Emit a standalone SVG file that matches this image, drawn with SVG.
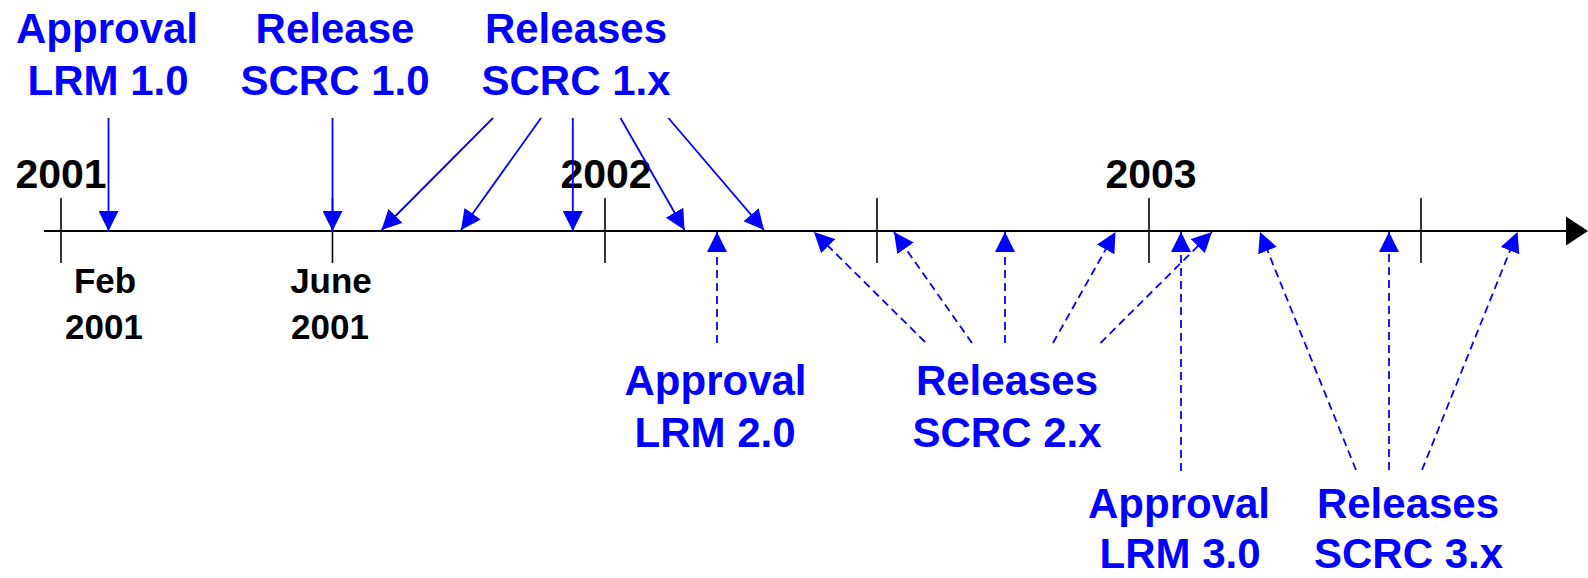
<svg xmlns="http://www.w3.org/2000/svg" width="1588" height="578" viewBox="0 0 1588 578">
<style>
text{font-family:"Liberation Sans",Arial,sans-serif;font-weight:bold;text-anchor:middle}
.blue{fill:#0000FF;font-size:42px}
.year{fill:#000;font-size:41px}
.date{fill:#000;font-size:35px}
.tick{stroke:#000;stroke-width:1.6}
.solid{stroke:#0000FF;stroke-width:1.8;fill:none;marker-end:url(#ah)}
.dash{stroke:#0000FF;stroke-width:1.8;fill:none;stroke-dasharray:8 5;marker-end:url(#ah)}
</style>
<defs>
<marker id="ah" markerUnits="userSpaceOnUse" markerWidth="20" markerHeight="20" refX="20" refY="10" orient="auto" viewBox="0 0 20 20">
<path d="M0,0 L20,10 L0,20 Z" fill="#0000FF"/>
</marker>
</defs>
<rect width="1588" height="578" fill="#fff"/>
<g id="axis">
<line x1="44" y1="231" x2="1568" y2="231" stroke="#000" stroke-width="2.2"/>
<path d="M1566,216.5 L1588,231 L1566,245.5 Z" fill="#000"/>
<line class="tick" x1="61" y1="198" x2="61" y2="263"/>
<line class="tick" x1="332.5" y1="198" x2="332.5" y2="263"/>
<line class="tick" x1="605" y1="198" x2="605" y2="263"/>
<line class="tick" x1="877" y1="198" x2="877" y2="263"/>
<line class="tick" x1="1149" y1="198" x2="1149" y2="263"/>
<line class="tick" x1="1421" y1="198" x2="1421" y2="263"/>
</g>
<g id="year-2001"><text class="year" x="61" y="188">2001</text></g>
<g id="year-2002"><text class="year" x="606" y="188">2002</text></g>
<g id="year-2003"><text class="year" x="1151" y="188">2003</text></g>
<g id="feb-2001"><text class="date" x="105" y="293">Feb</text><text class="date" x="104" y="339">2001</text></g>
<g id="june-2001"><text class="date" x="331" y="293">June</text><text class="date" x="330" y="339">2001</text></g>
<g id="approval-lrm-1"><text class="blue" x="107" y="43">Approval</text><text class="blue" x="108" y="95">LRM 1.0</text></g>
<g id="release-scrc-1"><text class="blue" x="335" y="43">Release</text><text class="blue" x="335" y="95">SCRC 1.0</text></g>
<g id="releases-scrc-1x"><text class="blue" x="576" y="43">Releases</text><text class="blue" x="576" y="95">SCRC 1.x</text></g>
<g id="approval-lrm-2"><text class="blue" x="715.5" y="395">Approval</text><text class="blue" x="715" y="447">LRM 2.0</text></g>
<g id="releases-scrc-2x"><text class="blue" x="1007" y="395">Releases</text><text class="blue" x="1007" y="447">SCRC 2.x</text></g>
<g id="approval-lrm-3"><text class="blue" x="1179" y="518">Approval</text><text class="blue" x="1180" y="568">LRM 3.0</text></g>
<g id="releases-scrc-3x"><text class="blue" x="1408" y="518">Releases</text><text class="blue" x="1408.5" y="568">SCRC 3.x</text></g>
<g id="connectors">
<line class="solid" x1="108.5" y1="118" x2="108.5" y2="231"/>
<line class="solid" x1="332.5" y1="118" x2="332.5" y2="231"/>
<line class="solid" x1="493" y1="118" x2="381.5" y2="230"/>
<line class="solid" x1="541" y1="118" x2="461" y2="230"/>
<line class="solid" x1="572.8" y1="118" x2="572.8" y2="231"/>
<line class="solid" x1="620.5" y1="118" x2="684.5" y2="230"/>
<line class="solid" x1="668.4" y1="118" x2="764" y2="230"/>
<line class="dash" x1="717" y1="343" x2="717" y2="232"/>
<line class="dash" x1="925" y1="342" x2="814" y2="232"/>
<line class="dash" x1="972" y1="343" x2="894" y2="232"/>
<line class="dash" x1="1005" y1="343" x2="1005" y2="232"/>
<line class="dash" x1="1053" y1="343" x2="1115.5" y2="232"/>
<line class="dash" x1="1100.5" y1="343" x2="1212" y2="232"/>
<line class="dash" x1="1181" y1="471" x2="1181" y2="232"/>
<line class="dash" x1="1356" y1="470" x2="1260" y2="232"/>
<line class="dash" x1="1389" y1="470" x2="1389" y2="232"/>
<line class="dash" x1="1422" y1="470" x2="1517.5" y2="232"/>
</g>
</svg>
